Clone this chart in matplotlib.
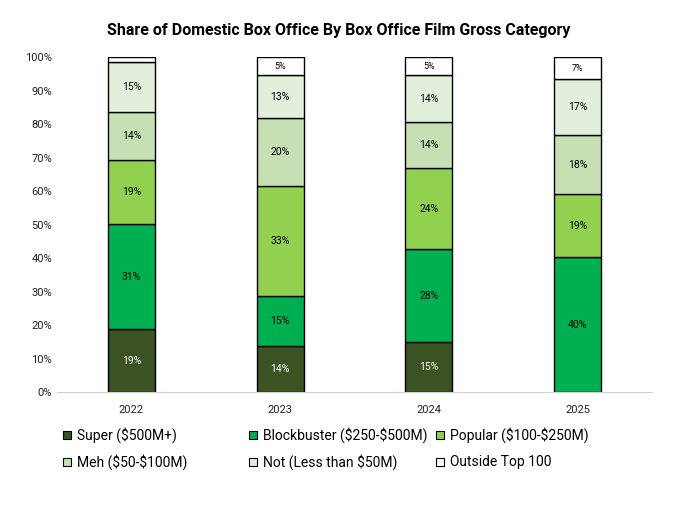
import numpy as np
from matplotlib import pyplot as plt
from matplotlib.patches import Rectangle
from matplotlib.ticker import PercentFormatter

years = ["2022", "2023", "2024", "2025"]
categories = [r"Super (\$500M+)", r"Blockbuster (\$250-\$500M)", r"Popular (\$100-\$250M)",
              r"Meh (\$50-\$100M)", r"Not (Less than \$50M)", "Outside Top 100"]

# share in percent, one list per category (2022..2025)
super_share = [18.7, 13.6, 14.8, 0.0]
blockbuster = [31.4, 15.0, 27.9, 40.2]
popular = [19.1, 32.9, 24.1, 18.8]
meh = [14.4, 20.3, 13.8, 17.7]
not_share = [14.9, 12.8, 14.0, 16.7]
outside = [1.5, 5.4, 5.4, 6.6]

series = [super_share, blockbuster, popular, meh, not_share, outside]
colors = ["#3b5323", "#00b050", "#92d050", "#c6e0b4", "#e2efda", "#ffffff"]
text_colors = ["white", "black", "black", "black", "black", "black"]

plt.rcParams['font.family'] = ['Roboto', 'DejaVu Sans']

W, H = 677, 516
fig = plt.figure(figsize=(W / 100, H / 100), dpi=100)
ax = fig.add_axes([0.0842, 0.2403, 0.8789, 0.6492])

x = np.arange(len(years))
bottom = np.zeros(len(years))
for vals, c, tc in zip(series, colors, text_colors):
    vals = np.array(vals)
    ax.bar(x, vals, 0.316, bottom=bottom, color=c, edgecolor="black", linewidth=1.0)
    for xi, v, b in zip(x, vals, bottom):
        if v >= 3:
            fs = 6.5 if v < 9 else 7.5
            ax.text(xi, b + v / 2, "%d%%" % round(v), ha="center", va="center",
                    color=tc, fontsize=fs)
    bottom += vals

ax.set_xlim(-0.5, 3.5)
ax.set_ylim(0, 100)
ax.set_yticks(range(0, 101, 10))
ax.yaxis.set_major_formatter(PercentFormatter(decimals=0))
ax.set_xticks(x)
ax.set_xticklabels(years)
ax.tick_params(axis="both", length=0, labelsize=8, colors="#222222")
ax.tick_params(axis="x", pad=9)
for s in ["top", "right", "left"]:
    ax.spines[s].set_visible(False)
ax.spines["bottom"].set_color("#d0d0d0")

fig.suptitle("Share of Domestic Box Office By Box Office Film Gross Category",
             x=0.5, y=0.955, fontsize=11.5, fontweight="bold")

# legend laid out by hand, two rows of three like the original
spots = [(63, 435), (249, 435), (436, 435), (63, 462), (249, 462), (436, 462)]
box = 8
for lab, c, (px, py) in zip(categories, colors, spots):
    fig.patches.append(Rectangle((px / W, 1 - (py + box / 2) / H), box / W, box / H,
                                 transform=fig.transFigure, facecolor=c,
                                 edgecolor="black", linewidth=0.8))
    fig.text((px + box + 6) / W, 1 - py / H, lab, ha="left", va="center", fontsize=10)

fig.savefig("out.png", dpi=100)
